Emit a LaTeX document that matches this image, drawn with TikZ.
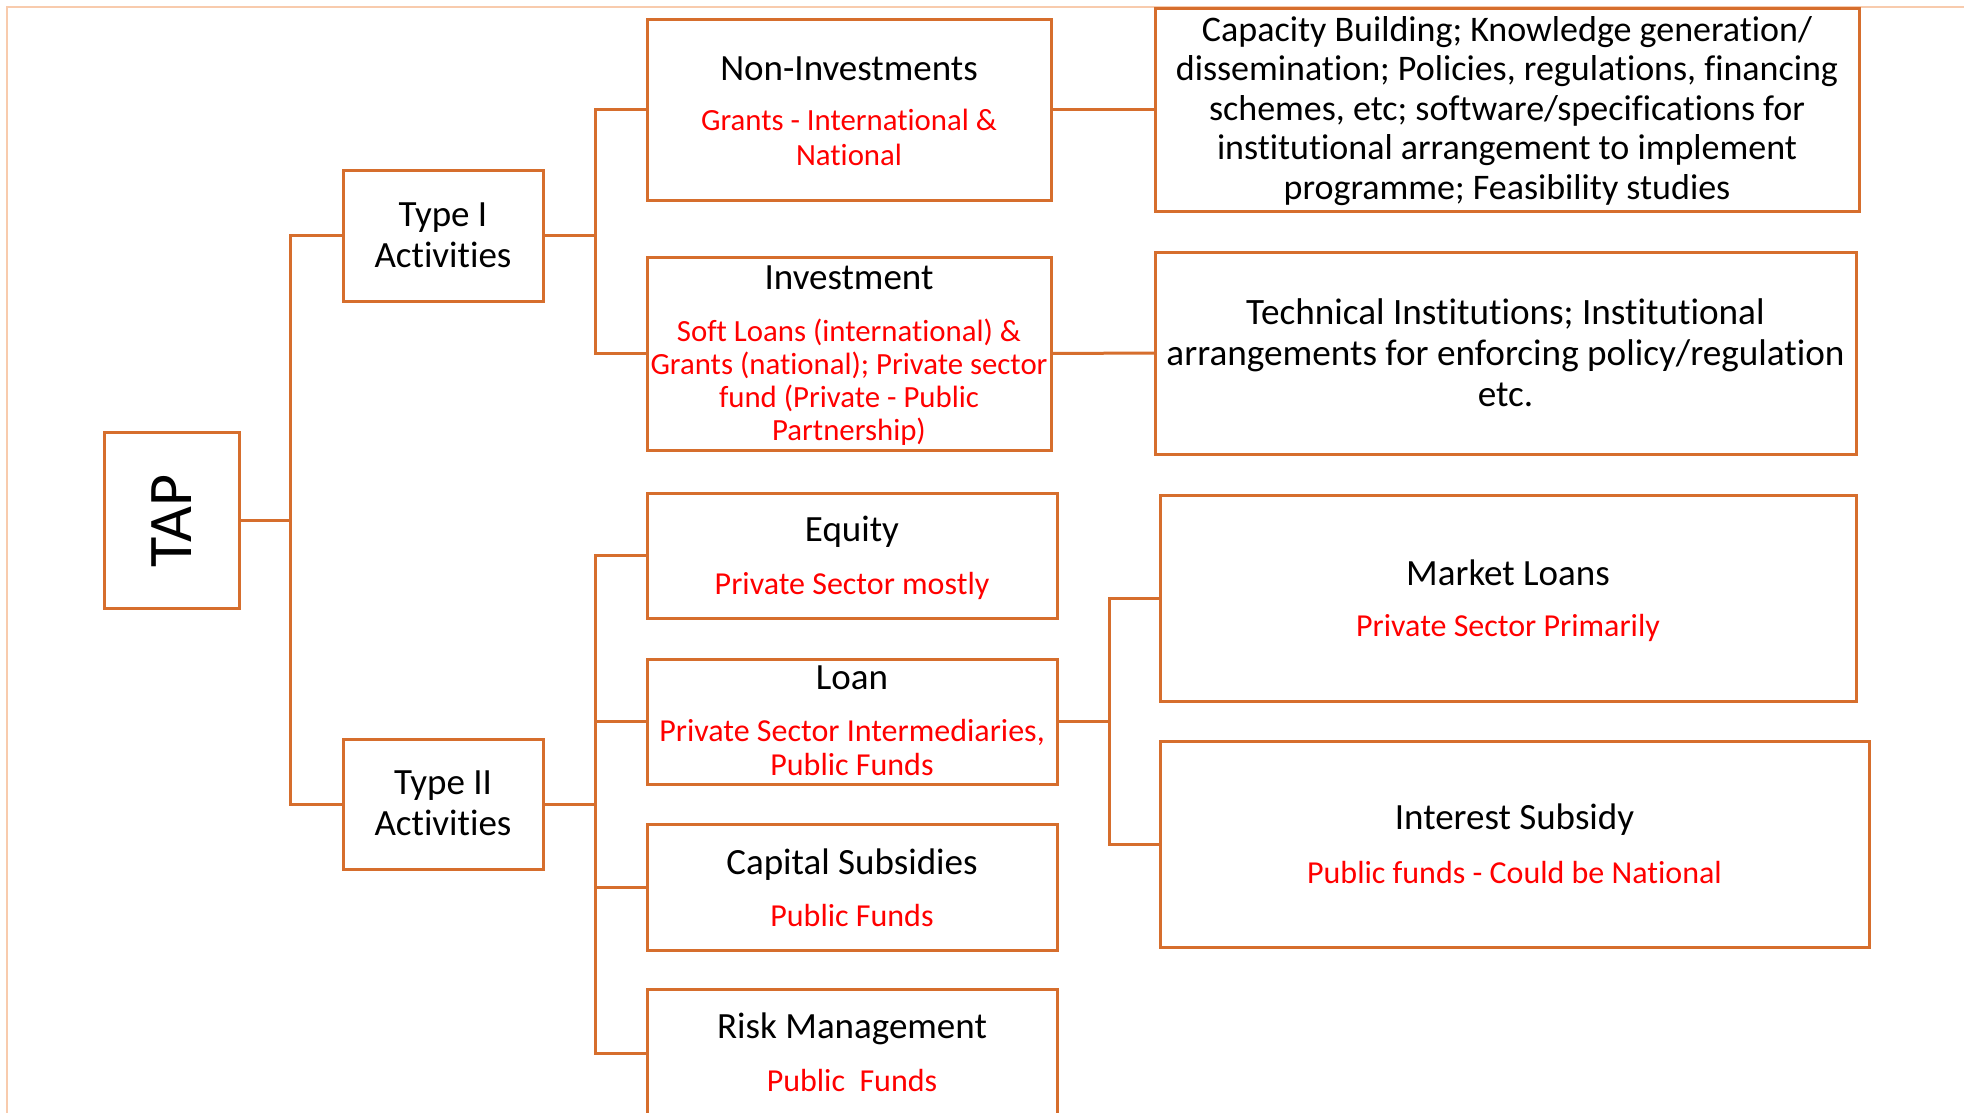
\documentclass[tikz,border=0pt]{standalone}
\usepackage{fontspec}
\setmainfont{Carlito}[RawFeature=-liga]
\definecolor{boxorange}{RGB}{214,110,45}
\definecolor{framepeach}{RGB}{248,203,173}
\definecolor{txtred}{RGB}{255,0,0}
\newcommand\putline[5]{\node[#1] (#2) at (#3,#4) {#5};}
\begin{document}
\begin{tikzpicture}[x=1pt,y=-1pt,
  box/.style={draw=boxorange, line width=3pt, inner sep=0pt, outer sep=0pt, fill=white},
  conn/.style={draw=boxorange, line width=3pt},
  ttl/.style={font=\fontsize{37}{40}\selectfont, text=black, inner sep=0pt, anchor=base},
  sub/.style={font=\fontsize{32}{35}\selectfont, text=txtred, inner sep=0pt, anchor=base},
  subsmall/.style={font=\fontsize{30.8}{34}\selectfont, text=txtred, inner sep=0pt, anchor=base},
  capbody/.style={font=\fontsize{36}{40}\selectfont, text=black, inner sep=0pt, anchor=base},
  techbody/.style={font=\fontsize{37.2}{41}\selectfont, text=black, inner sep=0pt, anchor=base},
]
\useasboundingbox (0,0) rectangle (1964,1113);
\clip (0,0) rectangle (1964,1113);
\fill[white] (0,0) rectangle (1964,1113);
% frame
\draw[framepeach, line width=2pt] (6.5,1120) -- (6.5,7) -- (1970,7);

% junction coordinates
\coordinate (trunk) at (290,520);
\coordinate (bone) at (595,235);
\coordinate (btwo) at (595,804);
\coordinate (bloan) at (1109,721);

% boxes
\node[box, minimum width=135pt, minimum height=176pt] (tap) at (171.5,520) {};
\node[box, minimum width=200pt, minimum height=131pt] (t1) at (443,235.5) {};
\node[box, minimum width=200pt, minimum height=130pt] (t2) at (443,804) {};
\node[box, minimum width=404pt, minimum height=180pt] (noninv) at (849,110) {};
\node[box, minimum width=404pt, minimum height=193pt] (invest) at (849,353.5) {};
\node[box, minimum width=704pt, minimum height=202pt] (capb) at (1507,110) {};
\node[box, minimum width=701pt, minimum height=202pt] (tech) at (1505.5,353) {};
\node[box, minimum width=410pt, minimum height=125pt] (equity) at (852,555.5) {};
\node[box, minimum width=410pt, minimum height=125pt] (loan) at (852,721.5) {};
\node[box, minimum width=410pt, minimum height=126pt] (capsub) at (852,887) {};
\node[box, minimum width=410pt, minimum height=128pt] (risk) at (852,1053) {};
\node[box, minimum width=696pt, minimum height=206pt] (market) at (1508,598) {};
\node[box, minimum width=709pt, minimum height=206pt] (interest) at (1514.5,844) {};

% connectors
\draw[conn] (tap.east) -- (tap.east -| trunk);
\draw[conn] (t1.west) -- (t1.west -| trunk) -- (t2.west -| trunk) -- (t2.west);
\draw[conn] (t1.east) -- (t1.east -| bone);
\draw[conn] (noninv.west) -- (noninv.west -| bone) -- (invest.west -| bone) -- (invest.west);
\draw[conn] (noninv.east) -- (capb.west);
\draw[conn] (invest.east) -- (tech.west);
\draw[conn] (t2.east) -- (t2.east -| btwo);
\draw[conn] (equity.west) -- (equity.west -| btwo) -- (risk.west -| btwo) -- (risk.west);
\draw[conn] (loan.west) -- (loan.west -| btwo);
\draw[conn] (capsub.west) -- (capsub.west -| btwo);
\draw[conn] (loan.east) -- (loan.east -| bloan);
\draw[conn] (market.west) -- (market.west -| bloan) -- (interest.west -| bloan) -- (interest.west);

% texts
\node[font=\fontsize{62}{66}\selectfont, inner sep=0pt, anchor=base, rotate=90] (taptext) at (191,521) {TAP};

\putline{ttl}{t1a}{443}{226}{Type I}
\putline{ttl}{t1b}{443}{267}{Activities}
\putline{ttl}{t2a}{443}{794}{Type II}
\putline{ttl}{t2b}{443}{835}{Activities}

\putline{ttl}{nia}{849}{81}{Non-Investments}
\putline{subsmall}{nib}{849}{131}{Grants - International \&}
\putline{subsmall}{nic}{849}{165}{National}

\putline{ttl}{iva}{849}{289.5}{Investment}
\putline{subsmall}{ivb}{849}{341}{Soft Loans (international) \&}
\putline{subsmall}{ivc}{849}{374}{Grants (national); Private sector}
\putline{subsmall}{ivd}{849}{407.5}{fund (Private - Public}
\putline{subsmall}{ive}{849}{440}{Partnership)}

\putline{capbody}{cba}{1507}{41.5}{Capacity Building; Knowledge generation/}
\putline{capbody}{cbb}{1507}{81}{dissemination; Policies, regulations, financing}
\putline{capbody}{cbc}{1507}{120.5}{schemes, etc; software/specifications for}
\putline{capbody}{cbd}{1507}{160}{institutional arrangement to implement}
\putline{capbody}{cbe}{1507}{199.5}{programme; Feasibility studies}

\putline{techbody}{tca}{1505.5}{324}{Technical Institutions; Institutional}
\putline{techbody}{tcb}{1505.5}{365}{arrangements for enforcing policy/regulation}
\putline{techbody}{tcc}{1505.5}{406}{etc.}

\putline{ttl}{eqa}{852}{541.5}{Equity}
\putline{sub}{eqb}{852}{594}{Private Sector mostly}

\putline{ttl}{lna}{852}{689.5}{Loan}
\putline{sub}{lnb}{852}{741.5}{Private Sector Intermediaries,}
\putline{sub}{lnc}{852}{775.5}{Public Funds}

\putline{ttl}{csa}{852}{874}{Capital Subsidies}
\putline{sub}{csb}{852}{926}{Public Funds}

\putline{ttl}{rma}{852}{1038.5}{Risk Management}
\putline{sub}{rmb}{852}{1091}{Public\ \ Funds}

\putline{ttl}{mla}{1508}{585}{Market Loans}
\putline{sub}{mlb}{1508}{636}{Private Sector Primarily}

\putline{ttl}{isa}{1514.5}{829.5}{Interest Subsidy}
\putline{sub}{isb}{1514.5}{883}{Public funds - Could be National}
\end{tikzpicture}
\end{document}
